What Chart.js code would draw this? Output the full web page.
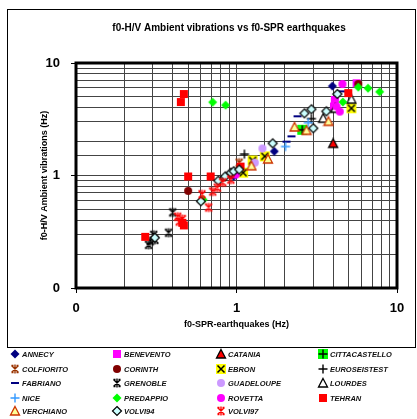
<!DOCTYPE html>
<html>
<head>
<meta charset="utf-8">
<script src="https://cdn.jsdelivr.net/npm/chart.js@4.4.1/dist/chart.umd.min.js"></script>
<style>
  html, body { margin: 0; padding: 0; background: #fff; }
  #wrap { width: 417px; height: 419px; }
</style>
</head>
<body>
<div id="wrap"><canvas id="chart" width="417" height="419"></canvas></div>
<script>
// ===== data: [f0-SPR earthquakes, f0-H/V ambient] (Hz) =====
const siteNames = ["ANNECY", "BENEVENTO", "CATANIA", "CITTACASTELLO", "COLFIORITO", "CORINTH",
  "EBRON", "EUROSEISTEST", "FABRIANO", "GRENOBLE", "GUADELOUPE", "LOURDES",
  "NICE", "PREDAPPIO", "ROVETTA", "TEHRAN", "VERCHIANO", "VOLVI94", "VOLVI97"];

const annecy = [[3.96, 6.23], [1.72, 1.64], [0.96, 0.98]];
const benevento = [[4.1, 4.7], [4.05, 4.1], [5.6, 6.6]];
const catania = [[4.0, 1.93]];
const cittacastello = [[2.57, 2.55]];
const colfiorito = [[1.04, 1.3]];
const corinth = [[0.5, 0.73], [5.74, 6.5]];
const ebron = [[1.1, 1.06], [1.26, 1.36], [1.5, 1.48], [5.2, 3.96]];
const euroseistest = [[1.12, 1.55], [2.93, 3.2]];
const fabriano = [[2.05, 2.0], [2.2, 2.23], [2.4, 3.36], [4.57, 5.6]];
const grenoble = [[0.283, 0.242], [0.305, 0.297], [0.31, 0.268], [0.29, 0.26], [0.377, 0.31], [0.4, 0.47]];
const guadeloupe = [[1.45, 1.74], [1.3, 1.3]];
const lourdes = [[5.2, 4.77], [4.13, 3.96], [3.47, 3.23]];
const nice = [[2.02, 1.81], [2.8, 2.95]];
const predappio = [[0.71, 4.48], [0.855, 4.22], [5.74, 6.1], [6.6, 5.97], [7.8, 5.55], [4.6, 4.5], [0.62, 0.61]];
const rovetta = [[4.57, 6.5], [4.4, 3.7], [4.2, 4.1], [0.99, 1.02]];
const tehran = [[0.47, 5.3], [0.45, 4.5], [0.5, 0.98], [0.69, 0.98], [0.27, 0.285], [1.06, 1.2],
  [4.97, 5.4], [0.46, 0.38], [0.47, 0.36]];
const verchiano = [[1.24, 1.22], [1.57, 1.4], [2.3, 2.7], [2.73, 2.52], [3.74, 3.03]];
const volvi94 = [[0.31, 0.28], [0.6, 0.59], [0.77, 0.9], [0.85, 0.98], [0.92, 1.06], [0.96, 1.09],
  [1.04, 1.13], [1.68, 1.93], [2.65, 3.57], [2.93, 3.88], [3.63, 3.72], [3.01, 2.63], [4.25, 5.3]];
const volvi97 = [[0.61, 0.68], [0.71, 0.72], [0.76, 0.78], [0.82, 0.87], [0.92, 0.92], [0.67, 0.52],
  [0.43, 0.43], [0.46, 0.41], [0.44, 0.39]];

const siteData = [annecy, benevento, catania, cittacastello, colfiorito, corinth, ebron, euroseistest,
  fabriano, grenoble, guadeloupe, lourdes, nice, predappio, rovetta, tehran, verchiano, volvi94, volvi97];

const axisMin = 0.1;
const axisMax = 10;

// ===== marker pictures (used for points and legend) =====
function mk(draw) {
  const c = document.createElement("canvas");
  c.width = 12; c.height = 12;
  const g = c.getContext("2d");
  g.lineCap = "butt";
  draw(g);
  return c;
}
const diamond = (fill, stroke) => mk(g => {
  g.beginPath(); g.moveTo(6, 1.5); g.lineTo(10.5, 6); g.lineTo(6, 10.5); g.lineTo(1.5, 6); g.closePath();
  g.fillStyle = fill; g.fill();
  if (stroke) { g.strokeStyle = stroke; g.lineWidth = 1.2; g.stroke(); }
});
const square = (fill) => mk(g => { g.fillStyle = fill; g.fillRect(2, 2, 8, 8); });
const circle = (fill) => mk(g => { g.beginPath(); g.arc(6, 6, 4, 0, Math.PI * 2); g.fillStyle = fill; g.fill(); });
const triangle = (fill, stroke) => mk(g => {
  g.beginPath(); g.moveTo(6, 1.5); g.lineTo(10.5, 10); g.lineTo(1.5, 10); g.closePath();
  g.fillStyle = fill; g.fill(); g.strokeStyle = stroke; g.lineWidth = 1.3; g.stroke();
});
const plus = (color, bg) => mk(g => {
  if (bg) { g.fillStyle = bg; g.fillRect(1, 1, 10, 10); }
  g.strokeStyle = color; g.lineWidth = 1.4;
  g.beginPath(); g.moveTo(1.5, 6); g.lineTo(10.5, 6); g.moveTo(6, 1.5); g.lineTo(6, 10.5); g.stroke();
});
const cross = (color, bg) => mk(g => {
  if (bg) { g.fillStyle = bg; g.fillRect(1, 1, 10, 10); }
  g.strokeStyle = color; g.lineWidth = 1.5;
  g.beginPath(); g.moveTo(2.5, 2.5); g.lineTo(9.5, 9.5); g.moveTo(9.5, 2.5); g.lineTo(2.5, 9.5); g.stroke();
});
const star = (color) => mk(g => {
  g.strokeStyle = color; g.lineWidth = 1.4;
  g.beginPath(); g.moveTo(2.5, 2.5); g.lineTo(9.5, 9.5); g.moveTo(9.5, 2.5); g.lineTo(2.5, 9.5);
  g.moveTo(6, 1.5); g.lineTo(6, 10.5);
  g.moveTo(2.5, 2.5); g.lineTo(4.5, 2.5); g.moveTo(7.5, 2.5); g.lineTo(9.5, 2.5);
  g.moveTo(2.5, 9.5); g.lineTo(4.5, 9.5); g.moveTo(7.5, 9.5); g.lineTo(9.5, 9.5);
  g.stroke();
});
const dash = (color) => mk(g => { g.fillStyle = color; g.fillRect(2, 5, 8, 2); });

const markers = [
  diamond("#000080"),            // ANNECY
  square("#FF00FF"),             // BENEVENTO
  triangle("#FF0000", "#000"),   // CATANIA
  plus("#000", "#00FF00"),       // CITTACASTELLO
  star("#993300"),               // COLFIORITO
  circle("#800000"),             // CORINTH
  cross("#000", "#FFFF00"),      // EBRON
  plus("#000"),                  // EUROSEISTEST
  dash("#000080"),               // FABRIANO
  star("#000"),                  // GRENOBLE
  circle("#CC99FF"),             // GUADELOUPE
  triangle("#FFFFFF", "#000"),   // LOURDES
  plus("#3399FF"),               // NICE
  diamond("#00FF00"),            // PREDAPPIO
  circle("#FF00FF"),             // ROVETTA
  square("#FF0000"),             // TEHRAN
  triangle("#FFFF99", "#CC3300"),// VERCHIANO
  diamond("#CCFFFF", "#000"),    // VOLVI94
  star("#FF0000")                // VOLVI97
];

const isMajor = v => Math.abs(Math.log10(v) - Math.round(Math.log10(v))) < 1e-6;
const tickText = v => {
  if (!isMajor(v)) return "";
  const r = Math.round(Math.log10(v));
  return r < 0 ? "0" : String(Math.pow(10, r));
};

const FONT = 'Arial, "Liberation Sans", sans-serif';

// ===== frame, title and legend drawn around the plot =====
const decorations = {
  id: "decorations",
  beforeDraw(chart) {
    const ctx = chart.ctx;
    ctx.save();
    ctx.fillStyle = "#fff";
    ctx.fillRect(0, 0, chart.width, chart.height);
    ctx.restore();
  },
  beforeDatasetsDraw(chart) {
    const { ctx, chartArea: a } = chart;
    ctx.save();
    ctx.strokeStyle = "#000";
    ctx.lineWidth = 3;
    ctx.strokeRect(a.left, a.top, a.right - a.left, a.bottom - a.top);
    ctx.restore();
  },
  afterDraw(chart) {
    const ctx = chart.ctx;
    ctx.save();
    // outer chart box
    ctx.strokeStyle = "#000";
    ctx.lineWidth = 1;
    ctx.strokeRect(7.5, 9.5, 408, 338);
    // title
    ctx.fillStyle = "#000";
    ctx.font = "bold 10px " + FONT;
    ctx.textAlign = "center";
    ctx.textBaseline = "middle";
    ctx.fillText("f0-H/V Ambient vibrations vs f0-SPR earthquakes", 229, 28);
    // legend grid, 4 columns
    const colX = [15, 117, 221, 323];
    const rowY = [354, 369, 383, 398, 411];
    ctx.font = "italic bold 7.5px " + FONT;
    ctx.textAlign = "left";
    chart.data.datasets.forEach((ds, i) => {
      const x = colX[i % 4];
      const y = rowY[Math.floor(i / 4)];
      const m = ds.pointStyle;
      ctx.drawImage(m, x - m.width / 2, y - m.height / 2);
      ctx.fillStyle = "#111";
      ctx.fillText(ds.label, x + 7, y + 0.5);
    });
    ctx.restore();
  }
};

const datasets = siteNames.map((name, i) => ({
  label: name,
  data: siteData[i].map(p => ({ x: p[0], y: p[1] })),
  pointStyle: markers[i],
  pointRadius: 5,
  showLine: false,
  order: siteNames.length - i
}));

new Chart(document.getElementById("chart"), {
  type: "scatter",
  data: { datasets },
  options: {
    responsive: false,
    animation: false,
    layout: { padding: { left: 36, top: 63, right: 20, bottom: 86 } },
    plugins: { legend: { display: false }, title: { display: false }, tooltip: { enabled: false } },
    scales: {
      x: {
        type: "logarithmic",
        min: axisMin,
        max: axisMax,
        afterFit: s => { s.height = 45; },
        border: { display: false },
        grid: {
          color: "#444",
          lineWidth: 1,
          tickLength: 5,
          tickColor: c => (c.tick && isMajor(c.tick.value) ? "#000" : "rgba(0,0,0,0)")
        },
        ticks: {
          autoSkip: false,
          maxRotation: 0,
          padding: 8,
          color: "#000",
          font: { family: FONT, size: 13, weight: "bold" },
          callback: v => tickText(v)
        },
        title: {
          display: true,
          text: "f0-SPR-earthquakes (Hz)",
          color: "#000",
          font: { family: FONT, size: 9, weight: "bold" },
          padding: { top: 0, bottom: 3 }
        }
      },
      y: {
        type: "logarithmic",
        min: axisMin,
        max: axisMax,
        afterFit: s => { s.width = 40; },
        border: { display: false },
        grid: {
          color: "#444",
          lineWidth: 1,
          tickLength: 5,
          tickColor: c => (c.tick && isMajor(c.tick.value) ? "#000" : "rgba(0,0,0,0)")
        },
        ticks: {
          autoSkip: false,
          padding: 11,
          color: "#000",
          font: { family: FONT, size: 13, weight: "bold" },
          callback: v => tickText(v)
        },
        title: {
          display: true,
          text: "f0-H/V Ambient vibrations (Hz)",
          color: "#000",
          font: { family: FONT, size: 9, weight: "bold" },
          padding: { top: 3, bottom: 0 }
        }
      }
    }
  },
  plugins: [decorations]
});
</script>
</body>
</html>
